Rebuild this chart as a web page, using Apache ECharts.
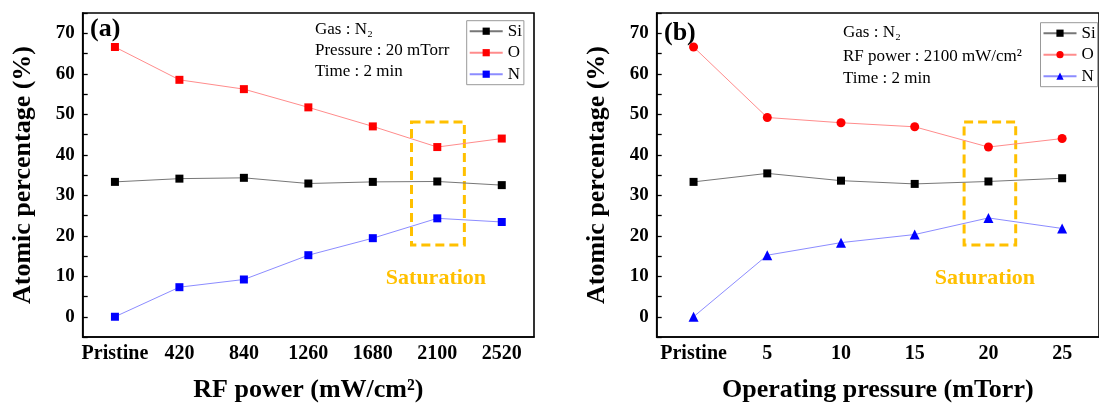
<!DOCTYPE html>
<html>
<head>
<meta charset="utf-8">
<script src="https://cdn.jsdelivr.net/npm/echarts@6/dist/echarts.min.js"></script>
<style>
html, body { margin: 0; padding: 0; background: #fff; }
#chart { width: 1099px; height: 408px; }
</style>
</head>
<body>
<div id="chart"></div>
<script>
// panel (a): RF power series
var powerCats = ['Pristine', '420', '840', '1260', '1680', '2100', '2520'];
var siA = [33.3, 34.1, 34.3, 32.9, 33.3, 33.4, 32.5];
var oA = [66.6, 58.5, 56.2, 51.7, 47.0, 41.9, 44.0];
var nA = [0.0, 7.3, 9.2, 15.2, 19.4, 24.3, 23.4];

// panel (b): operating pressure series
var pressCats = ['Pristine', '5', '10', '15', '20', '25'];
var siB = [33.3, 35.4, 33.6, 32.8, 33.4, 34.2];
var oB = [66.6, 49.2, 47.9, 46.9, 41.9, 44.0];
var nB = [0.0, 15.2, 18.3, 20.3, 24.4, 21.8];

// saturation boxes (x in category index units, y in %)
var satBoxAX = [4.60, 5.42];
var satBoxBX = [3.67, 4.37];
var satBoxY = [17.7, 48.1];

var yTickLabels = [0, 10, 20, 30, 40, 50, 60, 70];

var FONT = 'Liberation Serif';

var chartDiv = document.getElementById('chart');
var chart = echarts.init(chartDiv);

function catAxis(gridIndex, cats, name, labelSize) {
	return {
		type: 'category',
		gridIndex: gridIndex,
		data: cats,
		boundaryGap: true,
		name: name,
		nameLocation: 'middle',
		nameGap: 40,
		nameTextStyle: { fontFamily: FONT, fontWeight: 'bold', fontSize: 26, color: '#000' },
		axisLine: { onZero: false, lineStyle: { color: '#000', width: 1.6 } },
		axisTick: { inside: true, alignWithLabel: true, length: 6, lineStyle: { color: '#000', width: 1.3 } },
		axisLabel: { fontFamily: FONT, fontWeight: 'bold', fontSize: labelSize, color: '#000', margin: 7, interval: 0 },
		splitLine: { show: false }
	};
}

function hiddenAxis(gridIndex, n) {
	return { type: 'value', gridIndex: gridIndex, min: -0.5, max: n - 0.5, show: false, axisLine: { onZero: false } };
}

function valAxis(gridIndex) {
	return {
		type: 'value',
		gridIndex: gridIndex,
		min: -5,
		max: 75,
		interval: 5,
		name: 'Atomic percentage (%)',
		nameLocation: 'middle',
		nameGap: 46,
		nameTextStyle: { fontFamily: FONT, fontWeight: 'bold', fontSize: 26, color: '#000' },
		axisLine: { show: true, onZero: false, lineStyle: { color: '#000', width: 1.6 } },
		axisTick: { show: true, inside: true, length: 5, lineStyle: { color: '#000', width: 1.3 } },
		axisLabel: {
			fontFamily: FONT, fontWeight: 'bold', fontSize: 19, color: '#000', margin: 8,
			formatter: function (v) { return yTickLabels.indexOf(v) >= 0 ? String(v) : ''; }
		},
		splitLine: { show: false }
	};
}

function lineSeries(name, data, xi, yi, symbol, size, markColor, lineColor) {
	return {
		name: name,
		type: 'line',
		xAxisIndex: xi,
		yAxisIndex: yi,
		data: data,
		symbol: symbol,
		symbolSize: size,
		itemStyle: { color: markColor },
		lineStyle: { color: lineColor, width: 1 },
		z: 3
	};
}

function boxSeries(xi, yi, bx, offsetX) {
	return {
		type: 'line',
		xAxisIndex: xi,
		yAxisIndex: yi,
		data: [],
		silent: true,
		markArea: {
			silent: true,
			itemStyle: {
				color: 'rgba(0,0,0,0)',
				borderColor: '#FFC000',
				borderWidth: 3,
				borderType: [9, 5]
			},
			label: {
				show: true,
				position: 'bottom',
				distance: 21,
				offset: [offsetX, 0],
				formatter: 'Saturation',
				fontFamily: FONT,
				fontWeight: 'bold',
				fontSize: 22,
				color: '#FFC000'
			},
			data: [[{ coord: [bx[0], satBoxY[1]] }, { coord: [bx[1], satBoxY[0]] }]]
		},
		z: 2
	};
}

function legendFor(left, top, names) {
	return {
		orient: 'vertical',
		left: left,
		top: top,
		data: names,
		itemWidth: 33,
		itemHeight: 9,
		itemGap: 4.5,
		padding: [2, 2, 2, 2],
		borderColor: '#999',
		borderWidth: 1,
		selectedMode: false,
		textStyle: { fontFamily: FONT, fontSize: 17, color: '#000', lineHeight: 17 },
		formatter: function (n) { return n.replace(' (b)', ''); }
	};
}

function note(x, y, text, size, bold, color) {
	return {
		type: 'text',
		x: x,
		y: y,
		silent: true,
		style: {
			text: text,
			font: (bold ? 'bold ' : '') + size + 'px "' + FONT + '"',
			fill: color || '#000',
			verticalAlign: 'middle'
		}
	};
}

var option = {
	animation: false,
	backgroundColor: '#fff',
	grid: [
		{ left: 82.7, right: 565, top: 13, bottom: 67, show: true, borderColor: '#000', borderWidth: 1.6 },
		{ left: 656.7, right: -10, top: 13, bottom: 67, show: true, borderColor: '#000', borderWidth: 1.6 }
	],
	xAxis: [
		catAxis(0, powerCats, 'RF power (mW/cm²)', 20),
		hiddenAxis(0, powerCats.length),
		catAxis(1, pressCats, 'Operating pressure (mTorr)', 20),
		hiddenAxis(1, pressCats.length)
	],
	yAxis: [valAxis(0), valAxis(1)],
	legend: [
		legendFor(466.7, 20.7, ['Si', 'O', 'N']),
		legendFor(1040.5, 22.7, ['Si (b)', 'O (b)', 'N (b)'])
	],
	series: [
		lineSeries('Si', siA, 0, 0, 'rect', 8, '#000', '#777'),
		lineSeries('O', oA, 0, 0, 'rect', 8, '#ff0000', '#ff8c8c'),
		lineSeries('N', nA, 0, 0, 'rect', 8, '#0000ff', '#8c8cff'),
		boxSeries(1, 0, satBoxAX, -2),
		lineSeries('Si (b)', siB, 2, 1, 'rect', 8, '#000', '#777'),
		lineSeries('O (b)', oB, 2, 1, 'circle', 9, '#ff0000', '#ff8c8c'),
		lineSeries('N (b)', nB, 2, 1, 'triangle', 10, '#0000ff', '#8c8cff'),
		boxSeries(3, 1, satBoxBX, -5)
	],
	graphic: [
		note(90, 29, '(a)', 26, true),
		note(664, 33, '(b)', 26, true),
		note(315, 30, 'Gas : N₂', 17),
		note(315, 51, 'Pressure : 20 mTorr', 17),
		note(315, 72, 'Time : 2 min', 17),
		note(843, 33, 'Gas : N₂', 17),
		note(843, 57, 'RF power : 2100 mW/cm²', 17),
		note(843, 79, 'Time : 2 min', 17)
	]
};

if (option && typeof option === 'object') {
	chart.setOption(option, true);
}
</script>
</body>
</html>
